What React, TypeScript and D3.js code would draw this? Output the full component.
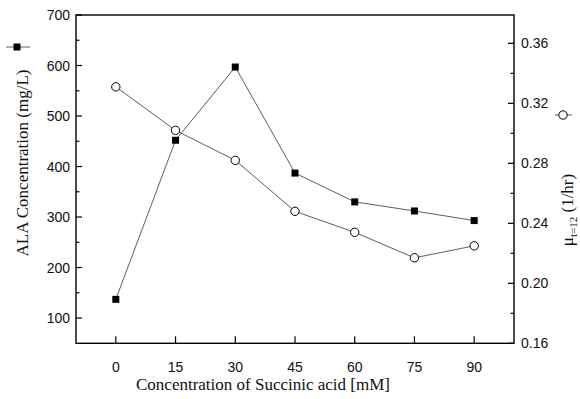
import React from "react";
import * as d3 from "d3";

const concentrations = [0, 15, 30, 45, 60, 75, 90];
const alaValues = [137, 452, 597, 387, 330, 312, 293];
const muValues = [0.331, 0.302, 0.282, 0.248, 0.234, 0.217, 0.225];
const xTicks = [0, 15, 30, 45, 60, 75, 90];
const leftTicks = [100, 200, 300, 400, 500, 600, 700];
const leftMinor = [150, 250, 350, 450, 550, 650];
const rightTicks = [0.16, 0.2, 0.24, 0.28, 0.32, 0.36];
const rightMinor = [0.18, 0.22, 0.26, 0.3, 0.34];

const W = 580;
const H = 399;
const L = 76, R = 514, T = 15, B = 343.3;

export default function App() {
  const x = d3.scaleLinear().domain([-10, 100]).range([L, R]);
  const yL = d3.scaleLinear().domain([50, 700]).range([B, T]);
  const yR = d3.scaleLinear().domain([0.16, 0.3789]).range([B, T]);

  const alaLine = d3
    .line<number>()
    .x((_, i) => x(concentrations[i]))
    .y((d) => yL(d));
  const muLine = d3
    .line<number>()
    .x((_, i) => x(concentrations[i]))
    .y((d) => yR(d));

  const tickFont = "'Liberation Sans', Arial, sans-serif";
  const serif = "'Liberation Serif', 'Times New Roman', serif";
  const sq = 7;

  return (
    <svg
      width={W}
      height={H}
      style={{ position: "absolute", left: 0, top: 0, background: "#fff" }}
    >
      <rect x={0} y={0} width={W} height={H} fill="#fff" />
      {/* frame */}
      <rect x={L} y={T} width={R - L} height={B - T} fill="none" stroke="#000" strokeWidth={1.4} />

      {/* left ticks */}
      {leftTicks.map((t) => (
        <g key={"l" + t}>
          <line x1={L} x2={L + 6} y1={yL(t)} y2={yL(t)} stroke="#000" strokeWidth={1.2} />
          <text x={L - 6} y={yL(t)} dy="0.36em" textAnchor="end" fontFamily={tickFont} fontSize={14} fill="#111">
            {t}
          </text>
        </g>
      ))}
      {leftMinor.map((t) => (
        <line key={"lm" + t} x1={L} x2={L + 3.5} y1={yL(t)} y2={yL(t)} stroke="#000" strokeWidth={1.2} />
      ))}

      {/* right ticks */}
      {rightTicks.map((t) => (
        <g key={"r" + t}>
          <line x1={R} x2={R - 6} y1={yR(t)} y2={yR(t)} stroke="#000" strokeWidth={1.2} />
          <text x={R + 7} y={yR(t)} dy="0.36em" textAnchor="start" fontFamily={tickFont} fontSize={14} fill="#111">
            {t.toFixed(2)}
          </text>
        </g>
      ))}
      {rightMinor.map((t) => (
        <line key={"rm" + t} x1={R} x2={R - 3.5} y1={yR(t)} y2={yR(t)} stroke="#000" strokeWidth={1.2} />
      ))}

      {/* x ticks */}
      {xTicks.map((t) => (
        <g key={"x" + t}>
          <line x1={x(t)} x2={x(t)} y1={B} y2={B - 7} stroke="#000" strokeWidth={1.2} />
          <text x={x(t)} y={372} textAnchor="middle" fontFamily={tickFont} fontSize={14} fill="#111">
            {t}
          </text>
        </g>
      ))}

      {/* lines */}
      <path d={alaLine(alaValues) || ""} fill="none" stroke="#333" strokeWidth={0.8} />
      <path d={muLine(muValues) || ""} fill="none" stroke="#333" strokeWidth={0.8} />

      {/* markers */}
      {alaValues.map((v, i) => (
        <rect
          key={"s" + i}
          x={x(concentrations[i]) - sq / 2}
          y={yL(v) - sq / 2}
          width={sq}
          height={sq}
          fill="#000"
        />
      ))}
      {muValues.map((v, i) => (
        <circle
          key={"c" + i}
          cx={x(concentrations[i])}
          cy={yR(v)}
          r={4.2}
          fill="#fff"
          stroke="#000"
          strokeWidth={1}
        />
      ))}

      {/* axis titles */}
      <text x={263} y={390} textAnchor="middle" fontFamily={serif} fontSize={17} fill="#111">
        Concentration of Succinic acid [mM]
      </text>
      <text
        transform="translate(28,163) rotate(-90)"
        textAnchor="middle"
        fontFamily={serif}
        fontSize={17}
        fill="#111"
      >
        ALA Concentration (mg/L)
      </text>
      <text
        transform="translate(573,210) rotate(-90)"
        textAnchor="middle"
        fontFamily={serif}
        fontSize={17}
        fill="#111"
      >
        μ
        <tspan fontSize={11} dy={4}>t=12</tspan>
        <tspan dy={-4}> (1/hr)</tspan>
      </text>

      {/* legend keys */}
      <line x1={6} x2={30} y1={47} y2={47} stroke="#333" strokeWidth={0.8} />
      <rect x={17 - sq / 2} y={47 - sq / 2} width={sq} height={sq} fill="#000" />
      <line x1={555} x2={572} y1={115} y2={115} stroke="#333" strokeWidth={0.8} />
      <circle cx={563} cy={115} r={4.2} fill="#fff" stroke="#000" strokeWidth={1} />
    </svg>
  );
}
